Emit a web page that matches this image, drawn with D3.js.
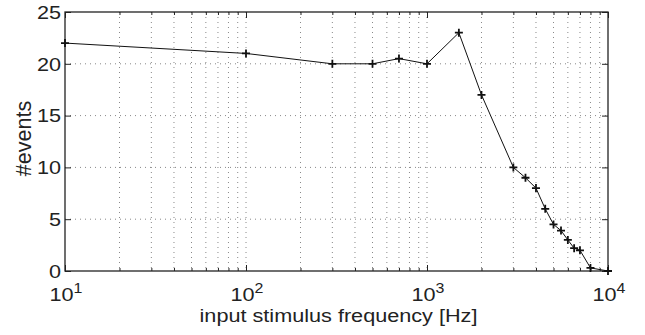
<!DOCTYPE html>
<html>
<head>
<meta charset="utf-8">
<script src="https://cdn.jsdelivr.net/npm/d3@7"></script>
<style>
  body { margin: 0; background: #fff; }
  text { font-family: "Liberation Sans", Arial, Helvetica, sans-serif; fill: #222; }
</style>
</head>
<body>
<div id="chart"></div>
<script>
// data
var freqs  = [10, 100, 300, 500, 700, 1000, 1500, 2000, 3000, 3500, 4000, 4500, 5000, 5500, 6000, 6500, 7000, 8000, 10000];
var events = [22, 21, 20, 20, 20.5, 20, 23, 17, 10, 9, 8, 6, 4.5, 3.9, 3, 2.2, 2, 0.3, 0];
var yTicks = [0, 5, 10, 15, 20, 25];
var xMajor = [10, 100, 1000, 10000];
var xExp   = ["1", "2", "3", "4"];

var margin = {top: 12, right: 37, bottom: 64, left: 65},
    width = 645 - margin.left - margin.right,
    height = 335 - margin.top - margin.bottom;

// the text in the picture is a bit wider than the font, stretch it
var sx = 1.14;

var svg = d3.select("#chart")
    .append("svg")
    .attr("width", 645)
    .attr("height", 335);

var g = svg.append("g")
    .attr("transform", "translate(" + margin.left + "," + margin.top + ")");

var x = d3.scaleLog().domain([10, 10000]).range([0, width]);
var y = d3.scaleLinear().domain([0, 25]).range([height, 0]);

// minor positions 2..9 in each decade
var xMinor = [];
for (var d = 10; d < 10000; d *= 10) {
    for (var k = 2; k <= 9; k++) xMinor.push(d * k);
}

// grid
g.selectAll(".xgrid")
    .data(xMinor.concat([100, 1000]))
    .enter().append("line")
    .attr("class", "xgrid")
    .attr("x1", function(d) { return x(d); })
    .attr("x2", function(d) { return x(d); })
    .attr("y1", 0).attr("y2", height)
    .attr("stroke", "#888")
    .attr("stroke-width", 1)
    .attr("stroke-dasharray", "1,4");

g.selectAll(".ygrid")
    .data(yTicks.filter(function(d) { return d > 0 && d < 25; }))
    .enter().append("line")
    .attr("class", "ygrid")
    .attr("x1", 0).attr("x2", width)
    .attr("y1", function(d) { return y(d); })
    .attr("y2", function(d) { return y(d); })
    .attr("stroke", "#888")
    .attr("stroke-width", 1)
    .attr("stroke-dasharray", "1,4");

// axes with inward ticks
var xAxisB = d3.axisBottom(x).tickValues(xMajor).tickSize(-6).tickFormat("");
var xAxisBm = d3.axisBottom(x).tickValues(xMinor).tickSize(-3).tickFormat("");
var xAxisT = d3.axisTop(x).tickValues(xMajor).tickSize(-6).tickFormat("");
var xAxisTm = d3.axisTop(x).tickValues(xMinor).tickSize(-3).tickFormat("");
var yAxisL = d3.axisLeft(y).tickValues(yTicks).tickSize(-6).tickFormat("");
var yAxisR = d3.axisRight(y).tickValues(yTicks).tickSize(-6).tickFormat("");

g.append("g").attr("transform", "translate(0," + height + ")").call(xAxisB);
g.append("g").attr("transform", "translate(0," + height + ")").call(xAxisBm);
g.append("g").call(xAxisT);
g.append("g").call(xAxisTm);
g.append("g").call(yAxisL);
g.append("g").attr("transform", "translate(" + width + ",0)").call(yAxisR);

g.selectAll(".domain").remove();
g.selectAll(".tick line").attr("stroke", "#222").attr("stroke-width", 1);

// box
g.append("rect")
    .attr("x", 0).attr("y", 0)
    .attr("width", width).attr("height", height)
    .attr("fill", "none")
    .attr("stroke", "#222")
    .attr("stroke-width", 1.3);

// y tick labels
g.selectAll(".ylab")
    .data(yTicks)
    .enter().append("text")
    .attr("class", "ylab")
    .attr("transform", function(d) { return "translate(-4," + y(d) + ") scale(" + sx + ",1)"; })
    .attr("dy", "0.36em")
    .attr("text-anchor", "end")
    .style("font-size", "19px")
    .text(function(d) { return d; });

// x tick labels 10^n
var xl = g.selectAll(".xlab")
    .data(xMajor)
    .enter().append("text")
    .attr("class", "xlab")
    .attr("transform", function(d) { return "translate(" + (x(d) + 1) + "," + (height + 30) + ") scale(" + sx + ",1)"; })
    .attr("text-anchor", "middle")
    .style("font-size", "19px");
xl.append("tspan").text("10");
xl.append("tspan")
    .attr("dy", "-0.6em")
    .style("font-size", "14px")
    .text(function(d, i) { return xExp[i]; });

// axis labels
g.append("text")
    .attr("transform", "translate(" + (width / 2 + 2) + "," + (height + 51) + ") scale(" + sx + ",1)")
    .attr("text-anchor", "middle")
    .style("font-size", "19px")
    .text("input stimulus frequency [Hz]");

g.append("text")
    .attr("transform", "translate(" + (-34) + "," + (height / 2 - 3) + ") rotate(-90)")
    .attr("text-anchor", "middle")
    .style("font-size", "21.5px")
    .text("#events");

// line and markers
var pts = freqs.map(function(f, i) { return {f: f, v: events[i]}; });

g.append("path")
    .datum(pts)
    .attr("fill", "none")
    .attr("stroke", "#111")
    .attr("stroke-width", 1)
    .attr("d", d3.line()
        .x(function(d) { return x(d.f); })
        .y(function(d) { return y(d.v); }));

g.selectAll(".mark")
    .data(pts)
    .enter().append("path")
    .attr("class", "mark")
    .attr("transform", function(d) { return "translate(" + x(d.f) + "," + y(d.v) + ")"; })
    .attr("d", "M-4,0H4M0,-4V4")
    .attr("stroke", "#111")
    .attr("stroke-width", 1.8);
</script>
</body>
</html>
